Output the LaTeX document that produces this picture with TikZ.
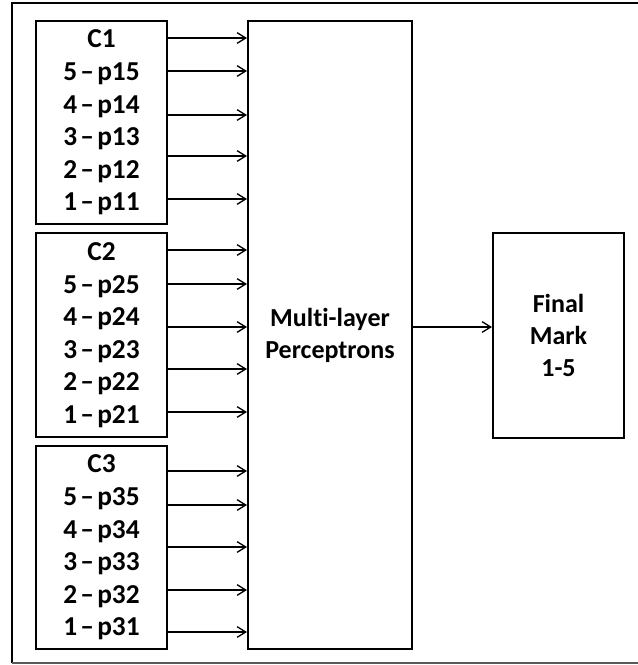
\documentclass[tikz,border=0pt]{standalone}
\usepackage{fontspec}
\setmainfont[Ligatures=NoCommon]{Carlito}
\usetikzlibrary{arrows.meta,calc}
\newcommand{\dsh}{\hspace{0.12em}–\hspace{0.12em}}
\begin{document}
\begin{tikzpicture}[x=0.75pt,y=-0.75pt,
  box/.style={draw=black,line width=1.5pt,rectangle,inner sep=0pt,align=center,font=\bfseries\fontsize{20.5}{24.4}\selectfont},
  rbox/.style={box,font=\bfseries\fontsize{19.5}{24}\selectfont},
  arr/.style={line width=1pt,-{Straight Barb[length=6.5pt,width=8pt,line width=1pt]}}]
\useasboundingbox (0,0) rectangle (638,665);
% outer frame
\draw[line width=2pt,black] (12,663) -- (12,3) -- (645,3);
\draw[line width=1.4pt,black!65] (12,663) -- (645,663);
% input boxes
\node[box,minimum width=131*0.75pt,minimum height=203*0.75pt] (c1) at (101.5,122.5)
  {C1\\5\dsh p15\\4\dsh p14\\3\dsh p13\\2\dsh p12\\1\dsh p11};
\node[box,minimum width=131*0.75pt,minimum height=204*0.75pt] (c2) at (101.5,335)
  {C2\\5\dsh p25\\4\dsh p24\\3\dsh p23\\2\dsh p22\\1\dsh p21};
\node[box,minimum width=131*0.75pt,minimum height=203*0.75pt] (c3) at (101.5,547.5)
  {C3\\5\dsh p35\\4\dsh p34\\3\dsh p33\\2\dsh p32\\1\dsh p31};
% MLP
\node[rbox,minimum width=164*0.75pt,minimum height=628*0.75pt] (mlp) at (330,335)
  {Multi-layer\\Perceptrons};
% Final
\node[rbox,minimum width=131*0.75pt,minimum height=205*0.75pt] (fin) at (558.5,335.5)
  {Final\\Mark\\1-5};
% arrows
\foreach \y in {38,71,115,156,199}{\draw[arr] (c1.east |- 0,\y) -- (mlp.west |- 0,\y);}
\foreach \y in {250,284,327,369,412}{\draw[arr] (c2.east |- 0,\y) -- (mlp.west |- 0,\y);}
\foreach \y in {471,505,547,590,632}{\draw[arr] (c3.east |- 0,\y) -- (mlp.west |- 0,\y);}
\draw[arr] (mlp.east |- 0,327) -- (fin.west |- 0,327);
\end{tikzpicture}
\end{document}
